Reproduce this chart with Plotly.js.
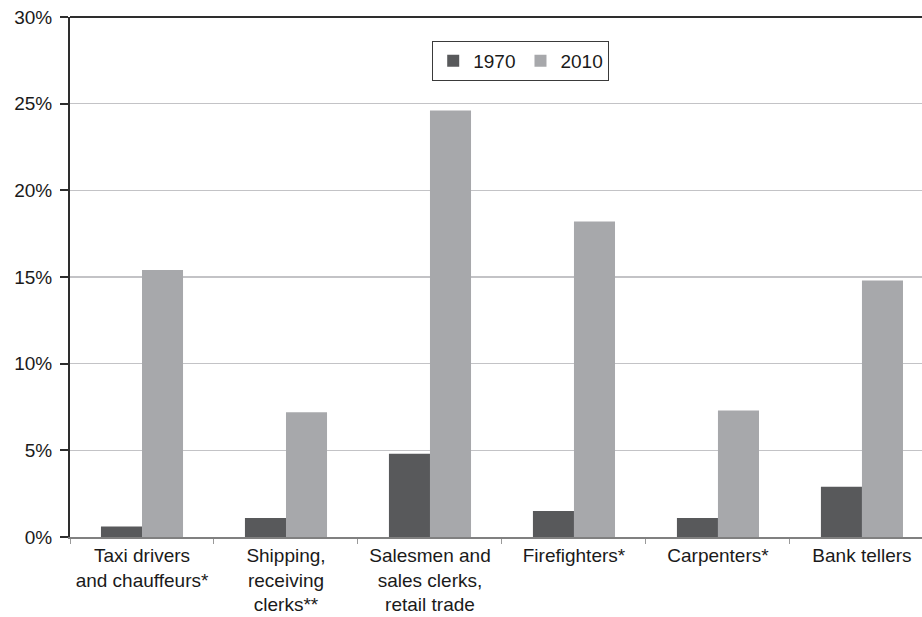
<!DOCTYPE html>
<html>
<head>
<meta charset="utf-8">
<script src="https://cdn.plot.ly/plotly-3.0.1.min.js"></script>
<style>
  html, body { margin: 0; padding: 0; background: #ffffff; overflow: hidden; }
  #chart { width: 922px; height: 617px; }
</style>
</head>
<body>
<div id="chart"></div>
<script>
// Occupations compared between 1970 and 2010 (percent)
const occupations = [
  "Taxi drivers<br>and chauffeurs*",
  "Shipping,<br>receiving<br>clerks**",
  "Salesmen and<br>sales clerks,<br>retail trade",
  "Firefighters*",
  "Carpenters*",
  "Bank tellers"
];
const share1970 = [0.6, 1.1, 4.8, 1.5, 1.1, 2.9];
const share2010 = [15.4, 7.2, 24.6, 18.2, 7.3, 14.8];
const yTicks = [0, 5, 10, 15, 20, 25, 30];

const font = { family: "Liberation Sans, Arial, Helvetica, sans-serif", size: 19, color: "#1a1a1a" };

const traces = [
  {
    type: "bar",
    name: "1970",
    x: occupations,
    y: share1970,
    marker: { color: "#58595b", line: { width: 0 } },
    hoverinfo: "skip"
  },
  {
    type: "bar",
    name: "2010",
    x: occupations,
    y: share2010,
    marker: { color: "#a7a8ab", line: { width: 0 } },
    hoverinfo: "skip"
  }
];

const layout = {
  width: 922,
  height: 617,
  margin: { l: 70, r: 0, t: 17, b: 80, pad: 0 },
  paper_bgcolor: "#ffffff",
  plot_bgcolor: "#ffffff",
  font: font,
  barmode: "group",
  bargap: 0.43,
  bargroupgap: 0,
  showlegend: true,
  legend: {
    orientation: "h",
    x: 0.529,
    xanchor: "center",
    y: 0.954,
    yanchor: "top",
    bgcolor: "#ffffff",
    bordercolor: "#3a3a3a",
    borderwidth: 1,
    font: font,
    itemwidth: 30,
    traceorder: "normal"
  },
  xaxis: {
    type: "category",
    range: [-0.5, 5.417],
    showgrid: false,
    zeroline: false,
    showline: true,
    linecolor: "#808080",
    linewidth: 2,
    ticks: "outside",
    tickson: "boundaries",
    ticklen: 5,
    tickcolor: "#9a9a9a",
    tickwidth: 1,
    tickfont: font,
    fixedrange: true
  },
  yaxis: {
    range: [0, 30],
    tickvals: yTicks,
    ticktext: yTicks.map(v => v + "%"),
    showgrid: true,
    gridcolor: "#c3c3c6",
    gridwidth: 1.5,
    zeroline: false,
    showline: true,
    linecolor: "#2e2e2e",
    linewidth: 2,
    ticks: "outside",
    ticklen: 8,
    tickcolor: "#2e2e2e",
    tickwidth: 2,
    tickfont: font,
    ticklabelstandoff: 4,
    fixedrange: true
  },
  shapes: [
    {
      // dark frame line along the top of the plot area
      type: "line",
      xref: "paper", yref: "paper",
      x0: 0, x1: 1, y0: 1, y1: 1,
      line: { color: "#2e2e2e", width: 2 }
    }
  ]
};

Plotly.newPlot("chart", traces, layout, { displayModeBar: false, staticPlot: true });
</script>
</body>
</html>
